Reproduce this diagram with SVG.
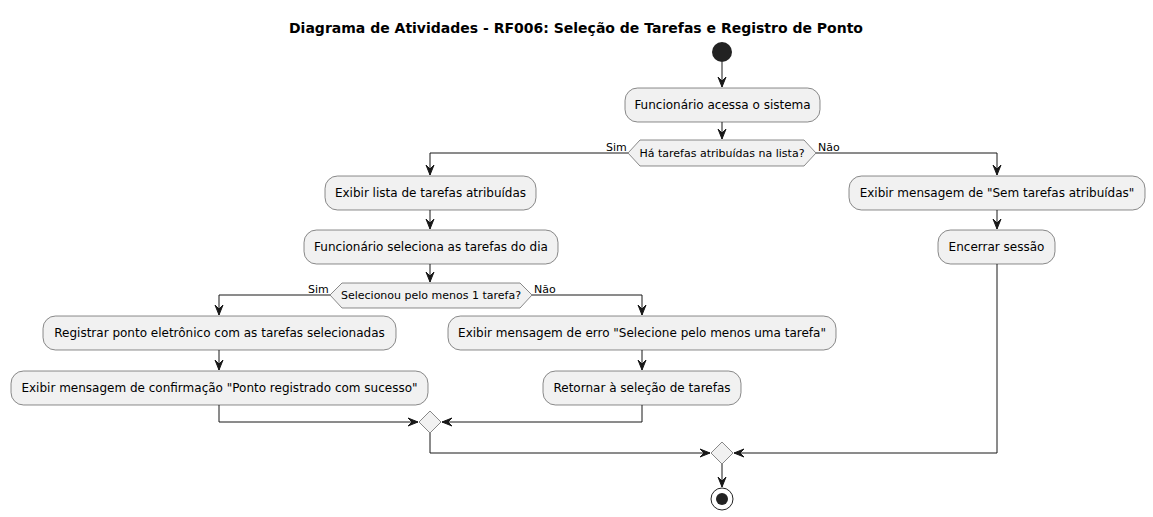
<svg xmlns="http://www.w3.org/2000/svg" width="1153" height="517" viewBox="0 0 1153 517">
<defs>
<marker id="ah" viewBox="0 0 10 8" refX="10" refY="4" markerWidth="10" markerHeight="8" markerUnits="userSpaceOnUse" orient="auto" overflow="visible">
<polygon points="0,0 10,4 0,8 4,4" fill="#181818" stroke="#181818" stroke-width="1" stroke-linejoin="miter"/>
</marker>
<style>
.box{fill:#F1F1F1;stroke:#181818;stroke-width:0.5}
.dia{fill:#F1F1F1;stroke:#181818;stroke-width:0.5}
.t{font-family:"DejaVu Sans",sans-serif;font-size:12px;fill:#000;text-anchor:middle}
.ts{font-family:"DejaVu Sans",sans-serif;font-size:11px;fill:#000;text-anchor:middle}
.lb{font-family:"DejaVu Sans",sans-serif;font-size:11px;fill:#000}
.c{fill:none;stroke:#181818;stroke-width:1}
</style>
</defs>
<rect width="1153" height="517" fill="#FFFFFF"/>
<text x="576" y="33" font-family="DejaVu Sans,sans-serif" font-size="14" font-weight="bold" text-anchor="middle">Diagrama de Atividades - RF006: Seleção de Tarefas e Registro de Ponto</text>

<g id="connectors">
<path class="c" d="M722,62 L722,87" marker-end="url(#ah)"/>
<path class="c" d="M722,122 L722,139" marker-end="url(#ah)"/>
<path class="c" d="M628,153 L430,153 L430,175" marker-end="url(#ah)"/>
<path class="c" d="M816,153 L997,153 L997,175" marker-end="url(#ah)"/>
<path class="c" d="M430,210 L430,229" marker-end="url(#ah)"/>
<path class="c" d="M430,264 L430,282" marker-end="url(#ah)"/>
<path class="c" d="M330,295 L219,295 L219,315" marker-end="url(#ah)"/>
<path class="c" d="M532,295 L642,295 L642,315" marker-end="url(#ah)"/>
<path class="c" d="M219,350 L219,370" marker-end="url(#ah)"/>
<path class="c" d="M642,350 L642,370" marker-end="url(#ah)"/>
<path class="c" d="M219,405 L219,422 L418,422" marker-end="url(#ah)"/>
<path class="c" d="M642,405 L642,422 L442,422" marker-end="url(#ah)"/>
<path class="c" d="M430,433 L430,453 L710,453" marker-end="url(#ah)"/>
<path class="c" d="M997,210 L997,229" marker-end="url(#ah)"/>
<path class="c" d="M997,264 L997,453 L734,453" marker-end="url(#ah)"/>
<path class="c" d="M722,464 L722,487" marker-end="url(#ah)"/>
<text class="lb" x="606" y="151">Sim</text>
<text class="lb" x="818" y="151">Não</text>
<text class="lb" x="308" y="293">Sim</text>
<text class="lb" x="534" y="293">Não</text>
</g>

<g id="start"><circle cx="722" cy="52" r="10" fill="#222222"/></g>

<g id="n1"><rect class="box" x="625" y="88" width="195" height="34" rx="12.5"/><text class="t" x="722.5" y="109">Funcionário acessa o sistema</text></g>

<g id="d1"><polygon class="dia" points="628,153 640,140 804,140 816,153 804,166 640,166"/><text class="ts" x="722" y="157">Há tarefas atribuídas na lista?</text></g>

<g id="n2"><rect class="box" x="325" y="176" width="211" height="34" rx="12.5"/><text class="t" x="430.5" y="197">Exibir lista de tarefas atribuídas</text></g>

<g id="n3"><rect class="box" x="304" y="230" width="254" height="34" rx="12.5"/><text class="t" x="431" y="251">Funcionário seleciona as tarefas do dia</text></g>

<g id="d2"><polygon class="dia" points="330,295 342,283 520,283 532,295 520,308 342,308"/><text class="ts" x="431" y="299">Selecionou pelo menos 1 tarefa?</text></g>

<g id="n4"><rect class="box" x="43" y="316" width="353" height="34" rx="12.5"/><text class="t" x="219.5" y="337">Registrar ponto eletrônico com as tarefas selecionadas</text></g>

<g id="n5"><rect class="box" x="11" y="371" width="417" height="34" rx="12.5"/><text class="t" x="219.5" y="392">Exibir mensagem de confirmação "Ponto registrado com sucesso"</text></g>

<g id="n6"><rect class="box" x="448" y="316" width="388" height="34" rx="12.5"/><text class="t" x="642" y="337">Exibir mensagem de erro "Selecione pelo menos uma tarefa"</text></g>

<g id="n7"><rect class="box" x="543" y="371" width="198" height="34" rx="12.5"/><text class="t" x="642" y="392">Retornar à seleção de tarefas</text></g>

<g id="m1"><polygon class="dia" points="430,411 441,422 430,433 419,422"/></g>

<g id="n8"><rect class="box" x="849" y="176" width="296" height="34" rx="12.5"/><text class="t" x="997" y="197">Exibir mensagem de "Sem tarefas atribuídas"</text></g>

<g id="n9"><rect class="box" x="938" y="230" width="117" height="34" rx="12.5"/><text class="t" x="996.5" y="251">Encerrar sessão</text></g>

<g id="m2"><polygon class="dia" points="722,442 733,453 722,464 711,453"/></g>

<g id="end"><circle cx="722" cy="499" r="11" fill="none" stroke="#222222" stroke-width="1"/><circle cx="722" cy="499" r="6" fill="#222222"/></g>
</svg>
